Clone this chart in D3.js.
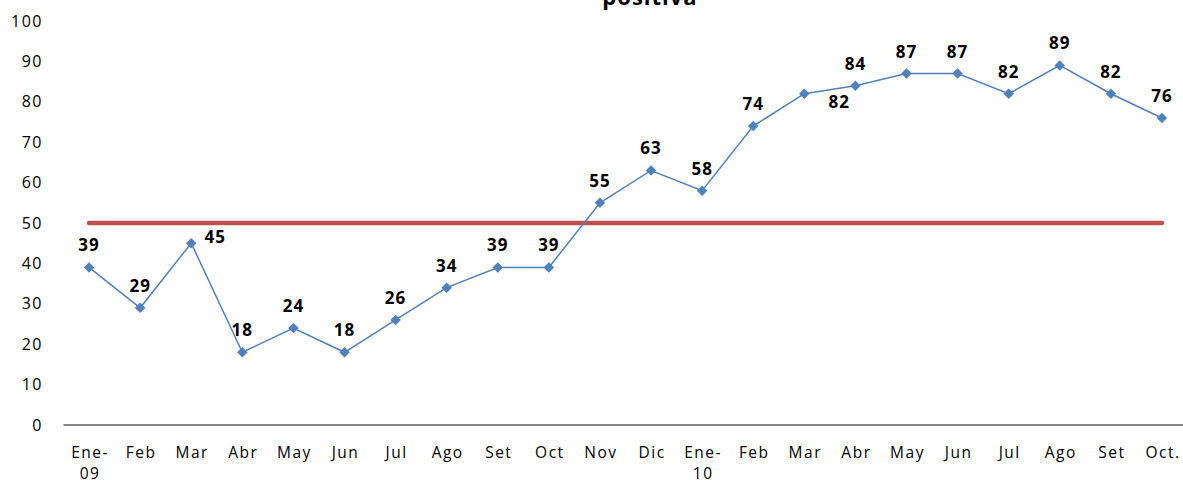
<!DOCTYPE html>
<html>
<head>
<meta charset="utf-8">
<script src="https://cdn.jsdelivr.net/npm/d3@7"></script>
<style>
  body { margin: 0; background: #fff; }
  svg { display: block; font-family: "Open Sans", sans-serif; }
</style>
</head>
<body>
<svg width="1183" height="480"></svg>
<script>
// month labels, two-line where the original wraps
var months = ["Ene-|09", "Feb", "Mar", "Abr", "May", "Jun", "Jul", "Ago", "Set", "Oct", "Nov", "Dic",
              "Ene-|10", "Feb", "Mar", "Abr", "May", "Jun", "Jul", "Ago", "Set", "Oct."];
var values = [39, 29, 45, 18, 24, 18, 26, 34, 39, 39, 55, 63, 58, 74, 82, 84, 87, 87, 82, 89, 82, 76];
var target = 50;
var yTicks = [0, 10, 20, 30, 40, 50, 60, 70, 80, 90, 100];

var svg = d3.select("svg");
var idx = d3.range(values.length);

var x = d3.scaleBand().domain(idx).range([63.5, 1187.5]);
var y = d3.scaleLinear().domain([0, 100]).range([425, 21]);
var cx = function(i) { return x(i) + x.bandwidth() / 2; };

// label offsets: most sit above the point, two sit to the right
var labelDx = function(i) { return i === 2 ? 24 : (i === 14 ? 35 : 0); };
var labelDy = function(i) { return i === 2 ? 0 : (i === 14 ? 14 : -16); };

// title (cut at top in original)
svg.append("text")
    .attr("x", 650).attr("y", 5)
    .attr("text-anchor", "middle")
    .style("font-size", "22px").style("font-weight", "bold")
    .style("letter-spacing", "1px")
    .text("positiva");

// y tick labels
svg.append("g").selectAll("text")
    .data(yTicks).enter().append("text")
    .attr("x", 43).attr("y", function(d) { return y(d); })
    .attr("dy", "0.35em")
    .attr("text-anchor", "end")
    .style("font-size", "16px")
    .style("letter-spacing", "1.5px")
    .text(function(d) { return d; });

// x axis line
svg.append("line")
    .attr("x1", 63.5).attr("x2", 1187.5)
    .attr("y1", y(0)).attr("y2", y(0))
    .style("stroke", "#868686").style("stroke-width", 2);

// x labels
var xl = svg.append("g").selectAll("text")
    .data(months).enter().append("text")
    .attr("text-anchor", "middle")
    .style("font-size", "15.5px")
    .style("letter-spacing", "1.5px");
xl.each(function(d, i) {
    var parts = d.split("|");
    var t = d3.select(this);
    parts.forEach(function(p, j) {
        t.append("tspan").attr("x", cx(i) + 1).attr("y", 458 + j * 21).text(p);
    });
});

// target line
svg.append("line")
    .attr("x1", cx(0)).attr("x2", cx(values.length - 1))
    .attr("y1", y(target)).attr("y2", y(target))
    .style("stroke", "#C0504D").style("stroke-width", 4.5)
    .style("stroke-linecap", "round");

// series line
var line = d3.line()
    .x(function(d, i) { return cx(i); })
    .y(function(d) { return y(d); });
svg.append("path")
    .datum(values)
    .attr("d", line)
    .style("fill", "none")
    .style("stroke", "#4F81BD")
    .style("stroke-width", 1.5);

// diamond markers
svg.append("g").selectAll("path")
    .data(values).enter().append("path")
    .attr("d", d3.symbol().type(d3.symbolDiamond2).size(70))
    .attr("transform", function(d, i) { return "translate(" + cx(i) + "," + y(d) + ")"; })
    .style("fill", "#4F81BD");

// data labels
svg.append("g").selectAll("text")
    .data(values).enter().append("text")
    .attr("x", function(d, i) { return cx(i) + labelDx(i); })
    .attr("y", function(d, i) { return y(d) + labelDy(i); })
    .attr("text-anchor", "middle")
    .style("font-size", "17px").style("font-weight", "bold")
    .style("letter-spacing", "1px")
    .text(function(d) { return d; });
</script>
</body>
</html>
